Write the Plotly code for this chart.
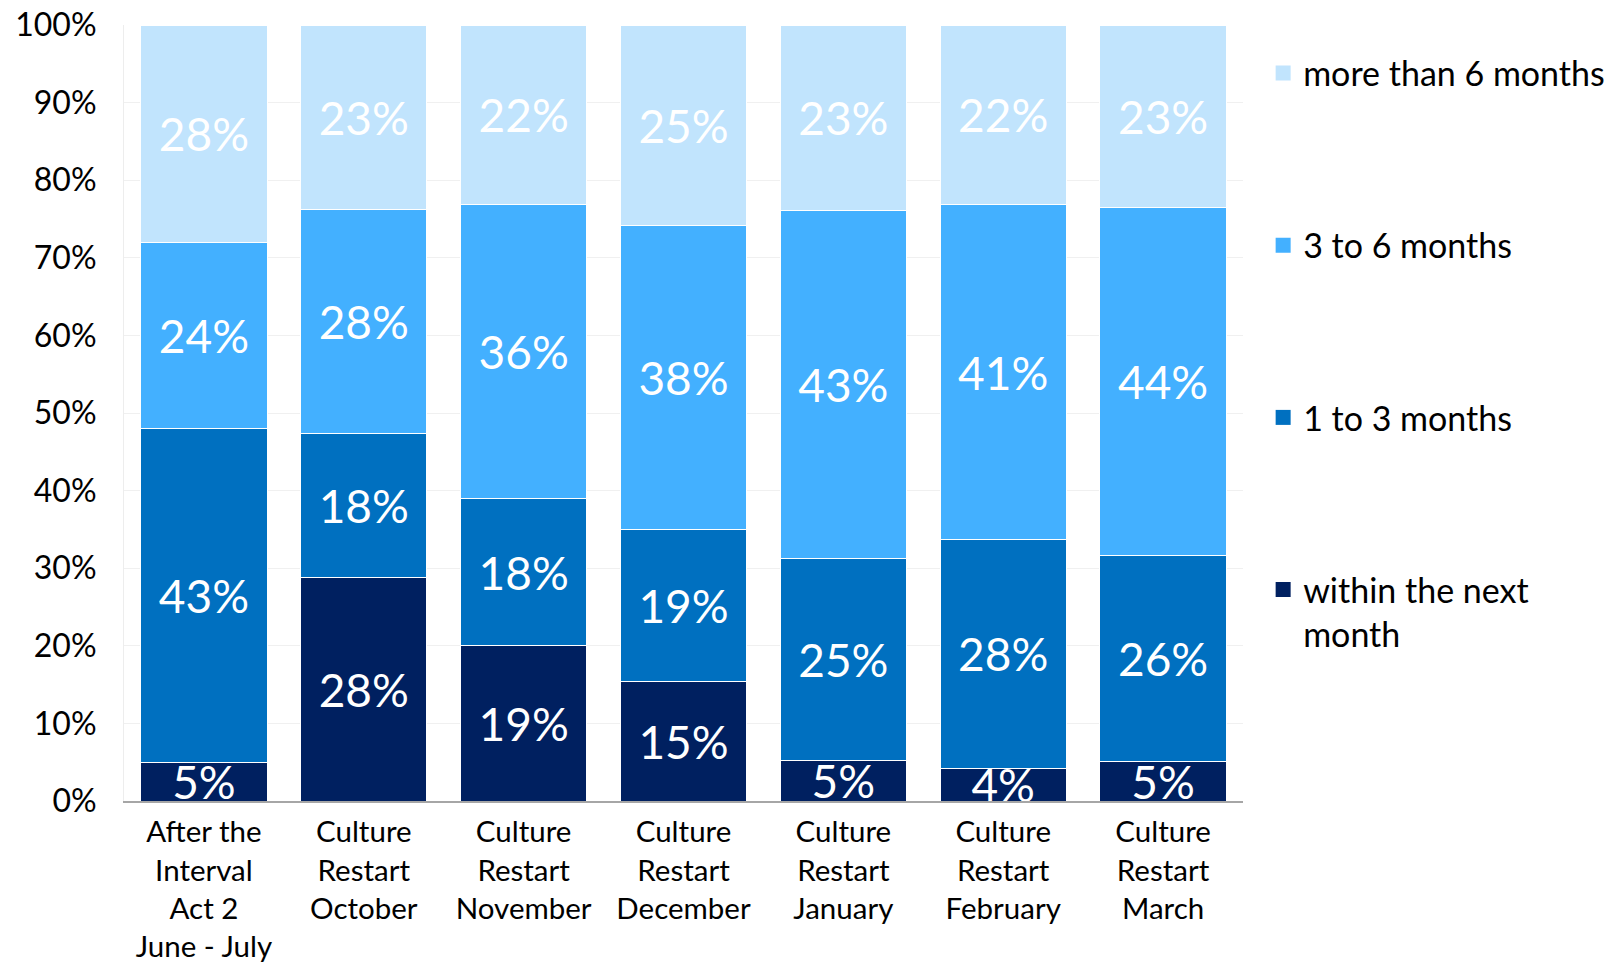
import plotly.graph_objects as go

# Survey waves (x categories)
waves = [
    "After the<br>Interval<br>Act 2<br>June - July",
    "Culture<br>Restart<br>October",
    "Culture<br>Restart<br>November",
    "Culture<br>Restart<br>December",
    "Culture<br>Restart<br>January",
    "Culture<br>Restart<br>February",
    "Culture<br>Restart<br>March",
]

# Share of respondents (%) per timeframe, bottom to top of each stack
within_next_month = [5, 28, 19, 15, 5, 4, 5]
one_to_three_months = [43, 18, 18, 19, 25, 28, 26]
three_to_six_months = [24, 28, 36, 38, 43, 41, 44]
more_than_six_months = [28, 23, 22, 25, 23, 22, 23]

series = [
    ("within the next<br>month", within_next_month, "#002060"),
    ("1 to 3 months", one_to_three_months, "#0070C0"),
    ("3 to 6 months", three_to_six_months, "#43B0FF"),
    ("more than 6 months", more_than_six_months, "#C1E4FD"),
]

FONT = "Lato"

fig = go.Figure()
for name, vals, color in series:
    fig.add_trace(go.Bar(
        x=waves,
        y=vals,
        name=name,
        showlegend=False,
        marker=dict(color=color, line=dict(color="white", width=1)),
        text=[f"{v}%" for v in vals],
        textposition="inside",
        insidetextanchor="middle",
        constraintext="none",
        textangle=0,
        textfont=dict(family=FONT, size=46, color="white"),
        cliponaxis=True,
        hoverinfo="skip",
    ))

# Legend entries with larger square swatches, top entry = top of the stack
n = len(series)
for i, (name, vals, color) in enumerate(series):
    fig.add_trace(go.Scatter(
        x=[None],
        y=[None],
        mode="markers",
        name=name,
        legendgroup=f"g{i}",
        legendrank=n - i,
        marker=dict(symbol="square", size=15, color=color),
        hoverinfo="skip",
    ))

fig.update_layout(
    width=1624,
    height=963,
    barmode="stack",
    barnorm="percent",
    bargap=0.21,
    plot_bgcolor="white",
    paper_bgcolor="white",
    margin=dict(l=124, r=381, t=25, b=162, autoexpand=False),
    font=dict(family=FONT, color="#000000"),
    legend=dict(
        x=1.018,
        xanchor="left",
        y=0.975,
        yanchor="top",
        valign="top",
        traceorder="grouped",
        tracegroupgap=125,
        font=dict(family=FONT, size=34, color="#000000"),
        bgcolor="rgba(0,0,0,0)",
        itemclick=False,
        itemdoubleclick=False,
    ),
    xaxis=dict(
        type="category",
        automargin=False,
        showgrid=False,
        showline=True,
        linecolor="#A6A6A6",
        linewidth=1.5,
        ticks="outside",
        ticklen=4,
        tickcolor="rgba(0,0,0,0)",
        tickfont=dict(family=FONT, size=29.5, color="#000000"),
        tickangle=0,
    ),
    yaxis=dict(
        range=[0, 100],
        automargin=False,
        tickmode="array",
        tickvals=list(range(0, 101, 10)),
        ticktext=[f"{v}%" for v in range(0, 101, 10)],
        showgrid=True,
        gridcolor="#F0F0F0",
        gridwidth=1,
        zeroline=False,
        showline=True,
        linecolor="#EDEDED",
        linewidth=1,
        ticks="outside",
        ticklen=20,
        tickcolor="rgba(0,0,0,0)",
        tickfont=dict(family=FONT, size=32, color="#000000"),
    ),
)

fig.write_html("out.html")
